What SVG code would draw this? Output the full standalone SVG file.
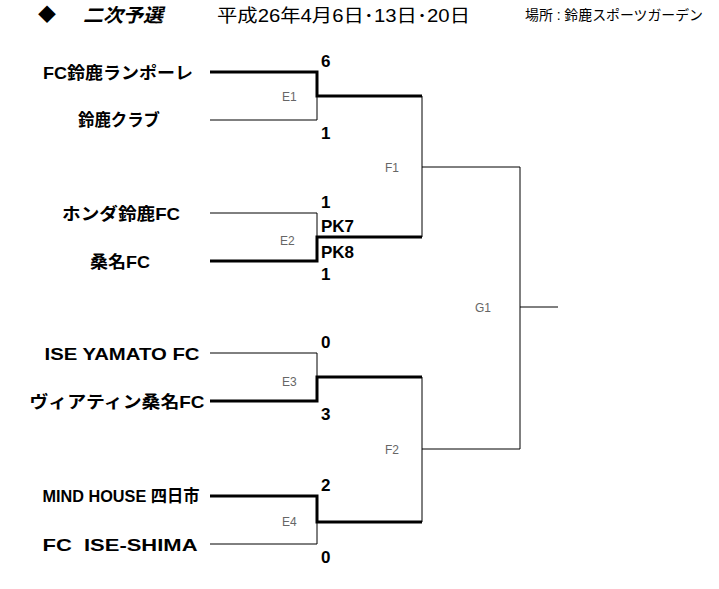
<svg xmlns="http://www.w3.org/2000/svg" width="719" height="589" viewBox="0 0 719 589">
<style>
.team{font-family:"Liberation Sans","Noto Sans CJK JP",sans-serif;font-weight:bold;font-size:17px;fill:#000;text-anchor:middle}
.score{font-family:"Liberation Sans","Noto Sans CJK JP",sans-serif;font-weight:bold;font-size:17px;fill:#000}
.mlabel{font-family:"Liberation Sans","Noto Sans CJK JP",sans-serif;font-size:12px;fill:#666}
.thin{fill:none;stroke:#000;stroke-width:1}
.thick{fill:none;stroke:#000;stroke-width:3;stroke-linejoin:miter}
.hdr{font-family:"Liberation Sans","Noto Sans CJK JP",sans-serif;fill:#000}
</style>
<rect width="719" height="589" fill="#fff"/>
<g id="header">
<text class="hdr" x="38" y="21" font-size="18">◆</text>
<text class="hdr" x="83" y="22" font-size="19" font-weight="bold" font-style="italic" textLength="80" lengthAdjust="spacingAndGlyphs">二次予選</text>
<text class="hdr" x="217" y="22" font-size="18" textLength="253" lengthAdjust="spacingAndGlyphs">平成26年4月6日･13日･20日</text>
<text class="hdr" x="525" y="20" font-size="14" textLength="178" lengthAdjust="spacingAndGlyphs">場所 : 鈴鹿スポーツガーデン</text>
</g>
<g id="connectors">
<path class="thin" d="M210 120H317V96"/>
<path class="thin" d="M210 213H317V237"/>
<path class="thin" d="M210 353H317V377"/>
<path class="thin" d="M210 544H317V522"/>
<path class="thin" d="M422 96V237M422 167H520"/>
<path class="thin" d="M422 377V522M422 449H520"/>
<path class="thin" d="M520 167V449M520 307H558"/>
<path class="thick" d="M210 72H317V96H422"/>
<path class="thick" d="M210 261H317V237H422"/>
<path class="thick" d="M210 401H317V377H422"/>
<path class="thick" d="M210 496H317V522H422"/>
</g>
<g id="team-rampole"><text class="team" x="118" y="79" textLength="150" lengthAdjust="spacingAndGlyphs">FC鈴鹿ランポーレ</text></g>
<g id="team-suzuka-club"><text class="team" x="119" y="126" textLength="82" lengthAdjust="spacingAndGlyphs">鈴鹿クラブ</text></g>
<g id="team-honda"><text class="team" x="121" y="220" textLength="118" lengthAdjust="spacingAndGlyphs">ホンダ鈴鹿FC</text></g>
<g id="team-kuwana"><text class="team" x="120" y="268" textLength="60" lengthAdjust="spacingAndGlyphs">桑名FC</text></g>
<g id="team-ise-yamato"><text class="team" x="122" y="360" textLength="155" lengthAdjust="spacingAndGlyphs">ISE YAMATO FC</text></g>
<g id="team-veertien"><text class="team" x="117" y="408" textLength="175" lengthAdjust="spacingAndGlyphs">ヴィアティン桑名FC</text></g>
<g id="team-mind-house"><text class="team" x="121" y="502" font-size="15" textLength="157" lengthAdjust="spacingAndGlyphs">MIND HOUSE 四日市</text></g>
<g id="team-ise-shima"><text class="team" x="120" y="551" textLength="155" lengthAdjust="spacingAndGlyphs" xml:space="preserve">FC  ISE-SHIMA</text></g>
<g id="match-E1">
<text class="mlabel" x="282" y="101">E1</text>
<text class="score" x="321" y="67">6</text>
<text class="score" x="321" y="139">1</text>
</g>
<g id="match-E2">
<text class="mlabel" x="280" y="245">E2</text>
<text class="score" x="321" y="208">1</text>
<text class="score" x="321" y="232">PK7</text>
<text class="score" x="321" y="258">PK8</text>
<text class="score" x="321" y="280">1</text>
</g>
<g id="match-E3">
<text class="mlabel" x="282" y="386">E3</text>
<text class="score" x="321" y="348">0</text>
<text class="score" x="321" y="420">3</text>
</g>
<g id="match-E4">
<text class="mlabel" x="282" y="526">E4</text>
<text class="score" x="321" y="491">2</text>
<text class="score" x="321" y="563">0</text>
</g>
<g id="match-F1"><text class="mlabel" x="385" y="172">F1</text></g>
<g id="match-F2"><text class="mlabel" x="385" y="454">F2</text></g>
<g id="match-G1"><text class="mlabel" x="475" y="312">G1</text></g>
</svg>
